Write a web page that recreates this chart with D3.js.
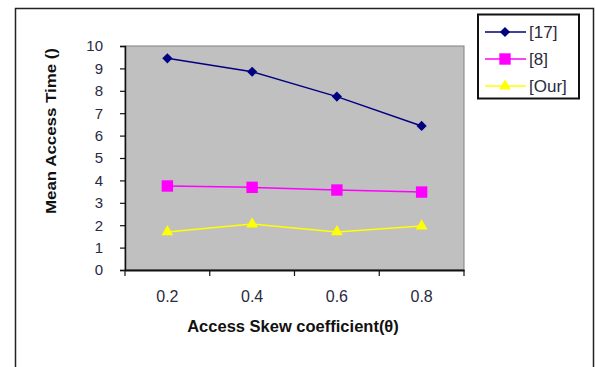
<!DOCTYPE html>
<html lang="en">
<head>
<meta charset="UTF-8">
<title>Mean Access Time</title>
<script src="https://cdn.jsdelivr.net/npm/d3@7"></script>
<style>
  body { margin: 0; background: #fff; }
  text { font-family: Arial, "Liberation Sans", sans-serif; }
</style>
</head>
<body>
<div id="chart"></div>
<script>
// data
var categories = ["0.2", "0.4", "0.6", "0.8"];
var seriesNames = ["[17]", "[8]", "[Our]"];
var ref17 = [9.45, 8.85, 7.74, 6.43];
var ref8 = [3.75, 3.69, 3.57, 3.48];
var ours = [1.70, 2.05, 1.70, 1.96];
var yTicks = [0, 1, 2, 3, 4, 5, 6, 7, 8, 9, 10];

var w = 595, h = 367;
var plotL = 125, plotR = 464, plotT = 46, plotB = 270;
var font = "Arial, 'Liberation Sans', sans-serif";

var svg = d3.select("#chart").append("svg")
  .attr("width", w)
  .attr("height", h);

// outer frame
svg.append("path")
  .attr("d", "M15.5," + h + " V8.5 H593.5 V" + h)
  .attr("fill", "none")
  .attr("stroke", "#222")
  .attr("stroke-width", 1.5);

var xScale = d3.scaleBand()
  .domain(categories)
  .range([plotL, plotR])
  .padding(0);

var yScale = d3.scaleLinear()
  .domain([0, 10])
  .range([plotB, plotT]);

// plot area
svg.append("rect")
  .attr("x", plotL)
  .attr("y", plotT)
  .attr("width", plotR - plotL)
  .attr("height", plotB - plotT)
  .attr("fill", "#c0c0c0")
  .attr("stroke", "#808080")
  .attr("stroke-width", 1);

// y axis
var yAxis = svg.append("g")
  .attr("transform", "translate(" + plotL + ",0)")
  .call(d3.axisLeft(yScale).tickValues(yTicks).tickSize(5).tickPadding(17).tickFormat(d3.format("d")));
yAxis.select(".domain").attr("stroke", "#111").attr("stroke-width", 1.5);
yAxis.selectAll(".tick line").attr("stroke", "#111").attr("stroke-width", 1.2);
yAxis.selectAll("text")
  .attr("font-size", "15px")
  .attr("font-family", font)
  .attr("fill", "#2a2a40");

// x axis: ticks at category boundaries
var xAxis = svg.append("g")
  .attr("transform", "translate(0," + plotB + ")")
  .call(d3.axisBottom(xScale).tickSize(0).tickPadding(21));
xAxis.select(".domain").attr("stroke", "#111").attr("stroke-width", 2);
xAxis.selectAll("text")
  .attr("font-size", "16px")
  .attr("font-family", font)
  .attr("fill", "#2a2a40");

var bounds = categories.map(function(c) { return xScale(c); }).concat([plotR]);
svg.selectAll(".xtick")
  .data(bounds)
  .enter()
  .append("line")
  .attr("class", "xtick")
  .attr("x1", function(d) { return d; })
  .attr("x2", function(d) { return d; })
  .attr("y1", plotB)
  .attr("y2", plotB + 6)
  .attr("stroke", "#111")
  .attr("stroke-width", 1.2);

// axis titles
svg.append("text")
  .attr("transform", "translate(56,131) rotate(-90)")
  .attr("text-anchor", "middle")
  .attr("font-size", "14px")
  .attr("font-weight", "bold")
  .attr("fill", "#111")
  .attr("textLength", 166)
  .attr("lengthAdjust", "spacingAndGlyphs")
  .text("Mean Access Time ()");

svg.append("text")
  .attr("x", 293)
  .attr("y", 332)
  .attr("text-anchor", "middle")
  .attr("font-size", "16.5px")
  .attr("font-weight", "bold")
  .attr("fill", "#111")
  .text("Access Skew coefficient(θ)");

// series
var series = [
  { name: seriesNames[0], values: ref17, color: "#000080", shape: d3.symbolSquare, size: 52, rot: 45 },
  { name: seriesNames[1], values: ref8, color: "#ff00ff", shape: d3.symbolSquare, size: 130, rot: 0 },
  { name: seriesNames[2], values: ours, color: "#ffff00", shape: d3.symbolTriangle, size: 60, rot: 0 }
];

var cx = function(i) { return xScale(categories[i]) + xScale.bandwidth() / 2; };

var line = d3.line()
  .x(function(d, i) { return cx(i); })
  .y(function(d) { return yScale(d); });

series.forEach(function(s) {
  svg.append("path")
    .datum(s.values)
    .attr("d", line)
    .attr("fill", "none")
    .attr("stroke", s.color)
    .attr("stroke-width", 1.5);

  svg.selectAll(null)
    .data(s.values)
    .enter()
    .append("path")
    .attr("transform", function(d, i) { return "translate(" + cx(i) + "," + yScale(d) + ") rotate(" + s.rot + ")"; })
    .attr("d", d3.symbol().type(s.shape).size(s.size))
    .attr("fill", s.color);
});

// legend
var legend = svg.append("g");
legend.append("rect")
  .attr("x", 478)
  .attr("y", 14.5)
  .attr("width", 101)
  .attr("height", 84)
  .attr("fill", "#fff")
  .attr("stroke", "#111")
  .attr("stroke-width", 2);

series.forEach(function(s, i) {
  var y = 32 + i * 27;
  legend.append("line")
    .attr("x1", 485).attr("x2", 526)
    .attr("y1", y).attr("y2", y)
    .attr("stroke", s.color)
    .attr("stroke-width", 1.5);
  legend.append("path")
    .attr("transform", "translate(505," + y + ") rotate(" + s.rot + ")")
    .attr("d", d3.symbol().type(s.shape).size(s.size))
    .attr("fill", s.color);
  legend.append("text")
    .attr("x", 529)
    .attr("y", y + 6)
    .attr("font-size", "17px")
    .attr("fill", "#2a2a40")
    .text(s.name);
});
</script>
</body>
</html>
